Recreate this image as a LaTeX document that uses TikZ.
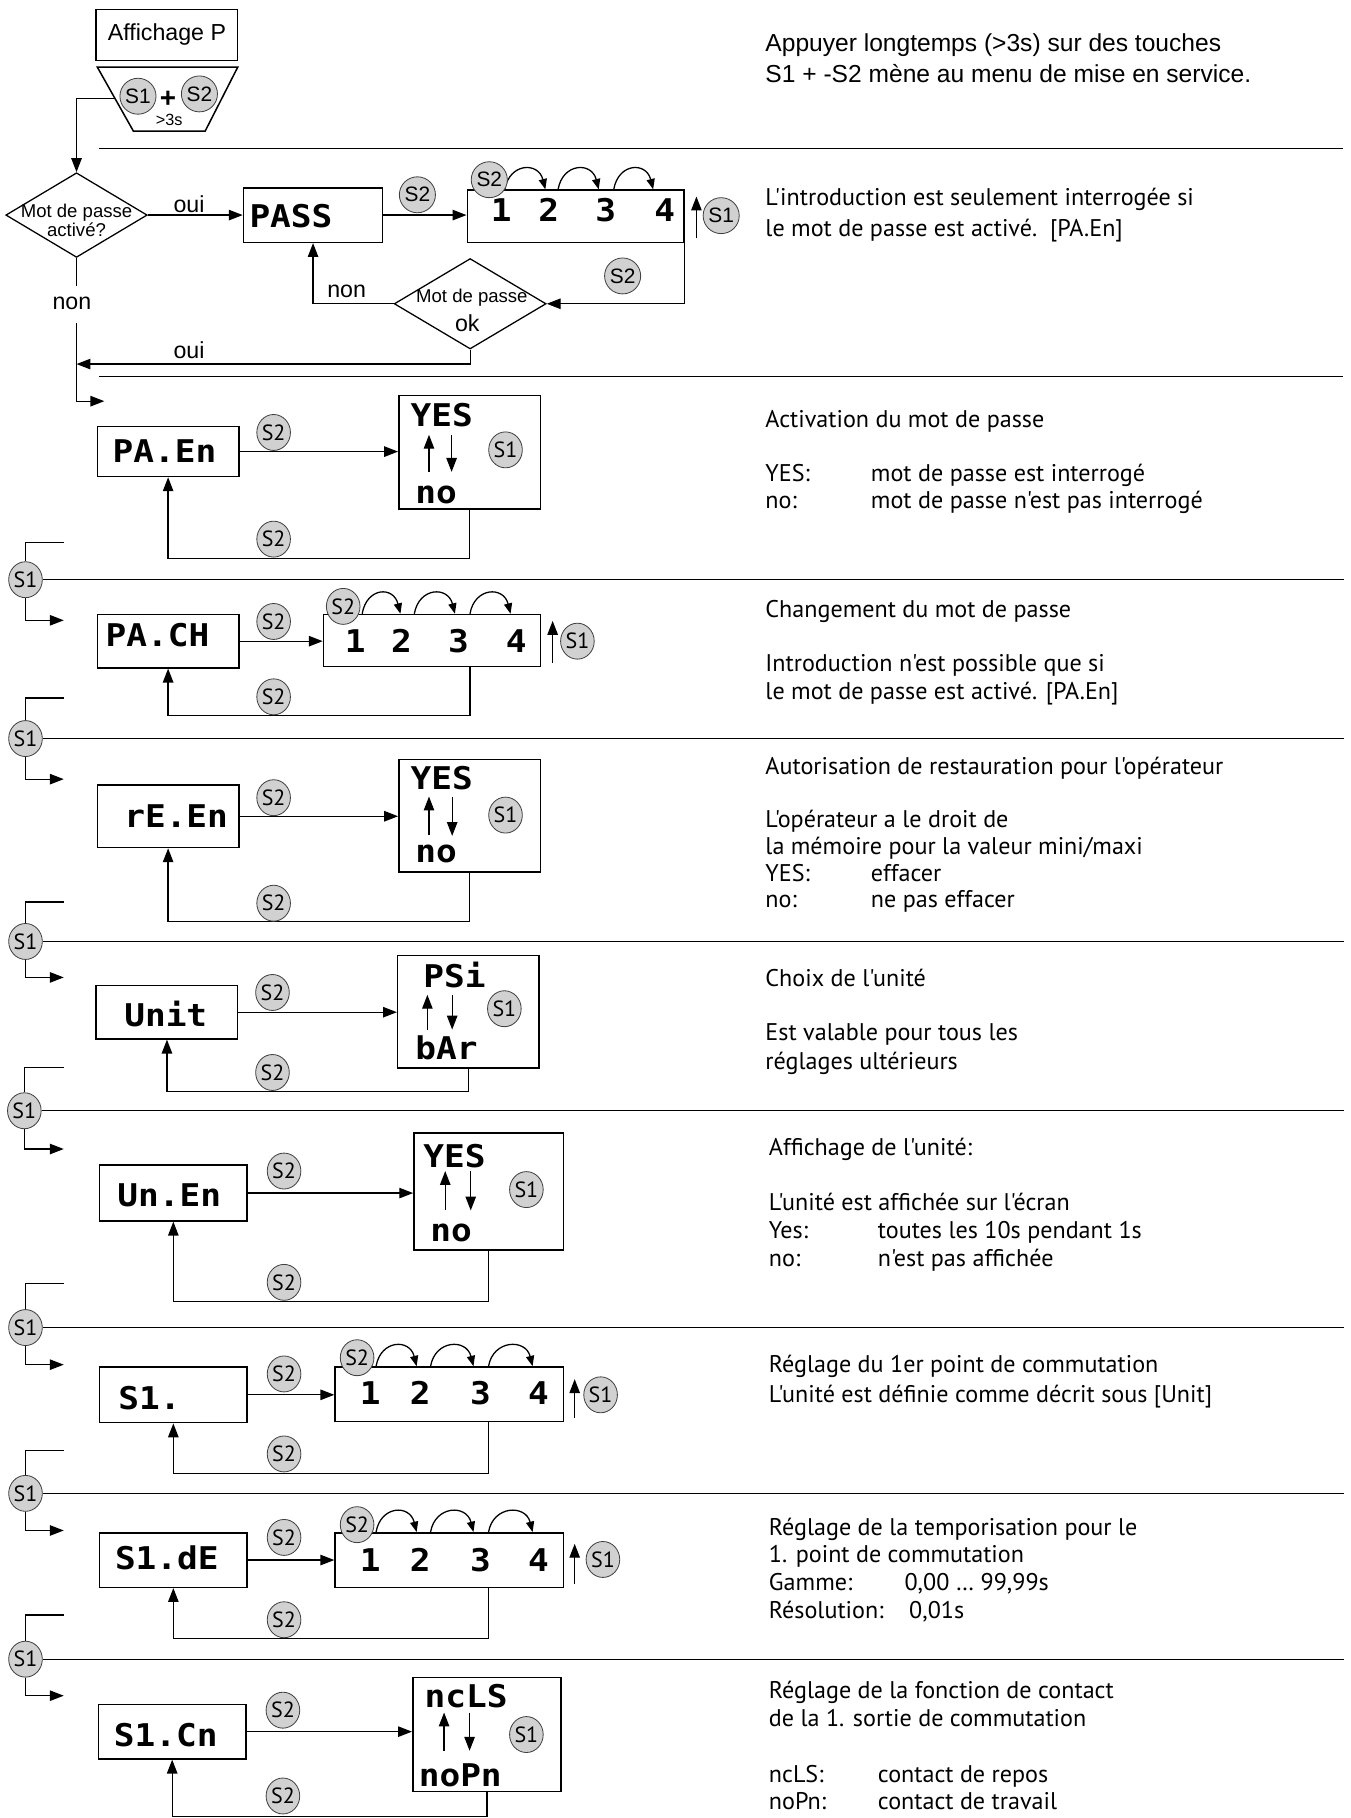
\documentclass[tikz,border=0pt]{standalone}
\usepackage{fontspec}
\setmainfont{Liberation Sans}
\newfontfamily\myr{PT Sans}
\newfontfamily\segf{DejaVu Sans Mono}[FakeStretch=1.1]
\usetikzlibrary{arrows.meta,shapes.geometric,calc}
\newcommand\lbranch[5]{%
  \node[kb] (#1) at (#2,#3) {S1};
  \draw[ln] (55,#4) -| (#1.north);
  \draw[arr] (#1.south) |- (55,#5);
  \draw[ln] (#1.east) -- (1159,#3);}
\begin{document}
\begin{tikzpicture}[x=1pt,y=-1pt,
 ln/.style={line width=1.1pt},
 arr/.style={line width=1.1pt,-{Triangle[length=12pt,width=9pt]}},
 sarr/.style={line width=1.1pt,-{Triangle[length=9pt,width=7pt]}},
 varr/.style={line width=1.1pt,-{Triangle[length=12pt,width=9pt]}},
 bx/.style={draw,line width=1.3pt,inner sep=0pt},
 dia/.style={diamond,draw,line width=1.1pt,inner sep=0pt},
 kb/.style={ellipse,draw=black!75,line width=0.7pt,fill=black!18,minimum width=29pt,minimum height=31pt,inner sep=0pt,font=\myr\fontsize{19}{19}\selectfont},
 kba/.style={kb,font=\fontsize{18}{18}\selectfont},
 seg/.style={inner sep=0pt,anchor=base west,font=\segf\bfseries\fontsize{27}{27}\selectfont},
 segd/.style={seg,anchor=base},
 rt/.style={inner sep=0pt,anchor=base west,font=\myr\fontsize{20.8}{24}\selectfont},
 atx/.style={inner sep=0pt,anchor=base west,font=\fontsize{21.2}{25}\selectfont},
 lab/.style={inner sep=0pt,font=\fontsize{20}{24}\selectfont},
]
\useasboundingbox (0,0) rectangle (1165,1568);

% ---------------- top part
\node[bx,minimum width=122pt,minimum height=44pt,font=\fontsize{20}{24}\selectfont] (aff) at (144,30) {Affichage P};
\coordinate (tzA) at (84,58); \coordinate (tzB) at (205,58);
\coordinate (tzC) at (177,113); \coordinate (tzD) at (115,113);
\draw[line width=1.3pt] (tzA) -- (tzB) -- (tzC) -- (tzD) -- cycle;
\coordinate (tzL) at ($(tzA)!0.49!(tzD)$);
\node[inner sep=0pt,font=\bfseries\fontsize{24}{24}\selectfont] (plus) at (145,86) {+};
\node[inner sep=0pt,font=\fontsize{14}{14}\selectfont] (gt3) at (146,103) {>3s};
\draw[ln] (85,128) -- (1158,128);

\node[dia,minimum width=122pt,minimum height=73pt] (dia1) at (66,185.5) {};
\node[align=center,inner sep=0pt,font=\fontsize{16}{17}\selectfont] (dia1t) at (66,190) {Mot de passe\\activé?};
\draw[arr] (tzL) -| (dia1.north);

\node[bx,minimum width=120pt,minimum height=47pt] (pass) at (270,185.5) {};
\node[seg] (passt) at (215,196) {PASS};
\draw[arr] (dia1.east) -- (pass.west);
\node[lab] (oui1) at (163,176) {oui};

\node[bx,minimum width=187pt,minimum height=45pt] (nb1) at (496.5,186.5) {};
\draw[arr] (pass.east) -- (pass.east -| nb1.west);
\foreach \i/\dx in {1/30,2/71,3/120,4/171} \node[segd] (nb1d\i) at ($(nb1.west)+(\dx,4.5)$) {\i};
\foreach \a/\b in {33/68,79/114,127/161}
  \draw[sarr] ($(nb1.north west)+(\a,0)$) .. controls +(4,-23) and +(-6,-24) .. ($(nb1.north west)+(\b,0)$);
\draw[varr] ($(nb1.east)+(10,19)$) -- ($(nb1.east)+(10,-17)$);

\node[dia,minimum width=131pt,minimum height=78pt] (dia2) at (405.5,262) {};
\node[inner sep=0pt,font=\fontsize{16}{16}\selectfont] (dia2a) at (407,257) {Mot de passe};
\node[lab] (dia2b) at (403,279) {ok};
\draw[arr] (nb1.south east) |- (dia2.east);
\draw[arr] (dia2.west) -| (pass.south);
\node[lab] (non2) at (299,251) {non};
\coordinate (vj) at (66,314);
\draw[arr] (dia2.south) |- (vj);
\node[lab] (oui2) at (163,302) {oui};
\draw[ln] (dia1.south) -- ++(0,24);
\node[lab] (non1) at (62,262) {non};
\coordinate (e0) at (90,346);
\coordinate (vs) at (66,279);
\draw[arr] (vs) |- (e0);
\draw[ln] (85,325) -- (1158,325);

\node[atx] (r1) at (660,44.5) {Appuyer longtemps (>3s) sur des touches};
\node[atx] (r2) at (660,71.5) {S1 + -S2 mène au menu de mise en service.};
\node[rt] (r3) at (660,177) {L'introduction est seulement interrogée si};
\node[rt] (r4) at (660,204) {le mot de passe est activé.\ \ [PA.En]};

% ---------------- PA.En
\node[bx,minimum width=122pt,minimum height=43pt] (paen) at (145,389.5) {};
\node[seg] (paent) at (97,399) {PA.En};
\node[bx,minimum width=122pt,minimum height=98pt] (yn1) at (405,390) {};
\node[seg] (yes1) at (354,368) {YES};
\node[seg] (no1) at (358,434) {no};
\draw[varr] ($(yn1.center)+(-35,17)$) -- ($(yn1.center)+(-35,-15)$);
\draw[varr] ($(yn1.center)+(-15.5,-15)$) -- ($(yn1.center)+(-15.5,17)$);
\draw[arr] (paen.east) -- (paen.east -| yn1.west);
\draw[arr] (yn1.south) -- ++(0,42) -| (paen.south);
\lbranch{k1}{22}{500}{468}{535}
\node[rt] (r5) at (660,369) {Activation du mot de passe};
\node[rt] (r6) at (660,415) {\makebox[91pt][l]{YES:}mot de passe est interrogé};
\node[rt] (r7) at (660,439) {\makebox[91pt][l]{no:}mot de passe n'est pas interrogé};

% ---------------- PA.CH
\node[bx,minimum width=122pt,minimum height=46pt] (pach) at (145,553) {};
\node[seg] (pacht) at (91,558) {PA.CH};
\node[bx,minimum width=187pt,minimum height=45pt] (nb2) at (372.5,552.5) {};
\draw[arr] (pach.east) -- (pach.east -| nb2.west);
\foreach \i/\dx in {1/28,2/68,3/117,4/167} \node[segd] (nb2d\i) at ($(nb2.west)+(\dx,10)$) {\i};
\foreach \a/\b in {34/67,79/114,127/162}
  \draw[sarr] ($(nb2.north west)+(\a,0)$) .. controls +(4,-23) and +(-6,-24) .. ($(nb2.north west)+(\b,0)$);
\draw[varr] ($(nb2.east)+(10,19.5)$) -- ($(nb2.east)+(10,-17)$);
\draw[arr] ($(nb2.south west)+(127,0)$) -- ++(0,41.5) -| (pach.south);
\lbranch{k2}{22}{637}{602}{672}
\node[rt] (r8) at (660,533) {Changement du mot de passe};
\node[rt] (r9) at (660,579) {Introduction n'est possible que si};
\node[rt] (r10) at (660,603) {le mot de passe est activé. [PA.En]};

% ---------------- rE.En
\node[bx,minimum width=122pt,minimum height=54pt] (reen) at (145,704) {};
\node[seg] (reent) at (107,714) {rE.En};
\node[bx,minimum width=122pt,minimum height=97pt] (yn2) at (405,703.5) {};
\node[seg] (yes2) at (354,681) {YES};
\node[seg] (no2) at (358,744) {no};
\draw[varr] ($(yn2.center)+(-35,16.5)$) -- ($(yn2.center)+(-35,-16.5)$);
\draw[varr] ($(yn2.center)+(-15,-16.5)$) -- ($(yn2.center)+(-15,17.5)$);
\draw[arr] (reen.east) -- (reen.east -| yn2.west);
\draw[arr] (yn2.south) -- ++(0,42) -| (reen.south);
\lbranch{k3}{22}{812}{778}{843}
\node[rt] (r11) at (660,668) {Autorisation de restauration pour l'opérateur};
\node[rt] (r12) at (660,714) {L'opérateur a le droit de};
\node[rt] (r13) at (660,737) {la mémoire pour la valeur mini/maxi};
\node[rt] (r14) at (660,760) {\makebox[91pt][l]{YES:}effacer};
\node[rt] (r15) at (660,783) {\makebox[91pt][l]{no:}ne pas effacer};

% ---------------- Unit
\node[bx,minimum width=122pt,minimum height=46pt] (unit) at (144,873) {};
\node[seg] (unitt) at (107,885) {Unit};
\node[bx,minimum width=122pt,minimum height=97pt] (ps) at (404,872.5) {};
\node[seg] (pst) at (365,852) {PSi};
\node[seg] (bart) at (358,914) {bAr};
\draw[varr] ($(ps.center)+(-35.4,15.5)$) -- ($(ps.center)+(-35.4,-14.5)$);
\draw[varr] ($(ps.center)+(-14,-14.5)$) -- ($(ps.center)+(-14,15.5)$);
\draw[arr] (unit.east) -- (unit.east -| ps.west);
\draw[arr] (ps.south) -- ++(0,20) -| (unit.south);
\lbranch{k4}{21}{958}{921}{991}
\node[rt] (r16) at (660,851) {Choix de l'unité};
\node[rt] (r17) at (660,897) {Est valable pour tous les};
\node[rt] (r18) at (660,922) {réglages ultérieurs};

% ---------------- Un.En
\node[bx,minimum width=127pt,minimum height=48pt] (unen) at (149.5,1029) {};
\node[seg] (unent) at (101,1041) {Un.En};
\node[bx,minimum width=129pt,minimum height=101pt] (yn3) at (421.5,1027.5) {};
\node[seg] (yes3) at (365,1007) {YES};
\node[seg] (no3) at (371,1071) {no};
\draw[varr] ($(yn3.center)+(-37.5,16.5)$) -- ($(yn3.center)+(-37.5,-17.5)$);
\draw[varr] ($(yn3.center)+(-15.5,-17.5)$) -- ($(yn3.center)+(-15.5,16.5)$);
\draw[arr] (unen.east) -- (unen.east -| yn3.west);
\draw[arr] (yn3.south) -- ++(0,44) -| (unen.south);
\lbranch{k5}{22}{1145}{1107}{1177}
\node[rt] (r19) at (663,997) {Affichage de l'unité:};
\node[rt] (r20) at (663,1044) {L'unité est affichée sur l'écran};
\node[rt] (r21) at (663,1068) {\makebox[94pt][l]{Yes:}toutes les 10s pendant 1s};
\node[rt] (r22) at (663,1092) {\makebox[94pt][l]{no:}n'est pas affichée};

% ---------------- S1.
\node[bx,minimum width=127pt,minimum height=48pt] (sa) at (149.5,1203) {};
\node[seg] (sat) at (102,1216) {S1.};
\node[bx,minimum width=197pt,minimum height=47pt] (nb3) at (387.5,1202.5) {};
\draw[arr] (sa.east) -- (sa.east -| nb3.west);
\foreach \i/\dx in {1/31,2/74,3/126,4/176} \node[segd] (nb3d\i) at ($(nb3.west)+(\dx,8.5)$) {\i};
\foreach \a/\b in {36/71,83/120,133/171}
  \draw[sarr] ($(nb3.north west)+(\a,0)$) .. controls +(4,-23) and +(-6,-24) .. ($(nb3.north west)+(\b,0)$);
\draw[varr] ($(nb3.east)+(9,20.5)$) -- ($(nb3.east)+(9,-13)$);
\draw[arr] ($(nb3.south west)+(133,0)$) -- ++(0,44) -| (sa.south);
\lbranch{k6}{22}{1288}{1251}{1320}
\node[rt] (r23) at (663,1184) {Réglage du 1er point de commutation};
\node[rt] (r24) at (663,1210) {L'unité est définie comme décrit sous [Unit]};

% ---------------- S1.dE
\node[bx,minimum width=127pt,minimum height=47pt] (sde) at (149.5,1345.5) {};
\node[seg] (sdet) at (99,1354) {S1.dE};
\node[bx,minimum width=197pt,minimum height=47pt] (nb4) at (387.5,1345.5) {};
\draw[arr] (sde.east) -- (sde.east -| nb4.west);
\foreach \i/\dx in {1/31,2/74,3/126,4/176} \node[segd] (nb4d\i) at ($(nb4.west)+(\dx,9.5)$) {\i};
\foreach \a/\b in {36/71,83/120,133/171}
  \draw[sarr] ($(nb4.north west)+(\a,0)$) .. controls +(4,-23) and +(-6,-24) .. ($(nb4.north west)+(\b,0)$);
\draw[varr] ($(nb4.east)+(9,20.5)$) -- ($(nb4.east)+(9,-14)$);
\draw[arr] ($(nb4.south west)+(133,0)$) -- ++(0,43.5) -| (sde.south);
\lbranch{k7}{22}{1431}{1393}{1462.5}
\node[rt] (r25) at (663,1324) {Réglage de la temporisation pour le};
\node[rt] (r26) at (663,1348) {1. point de commutation};
\node[rt] (r27) at (663,1372) {\makebox[117pt][l]{Gamme:}0,00 … 99,99s};
\node[rt] (r28) at (663,1396) {\makebox[121pt][l]{Résolution:}0,01s};

% ---------------- S1.Cn
\node[bx,minimum width=127pt,minimum height=47pt] (scn) at (148.5,1493.5) {};
\node[seg] (scnt) at (98,1506) {S1.Cn};
\node[bx,minimum width=128pt,minimum height=98pt] (nc) at (420,1496) {};
\node[seg] (nct) at (366,1473) {ncLS};
\node[seg] (nopt) at (361,1541) {noPn};
\draw[varr] ($(nc.center)+(-37,14)$) -- ($(nc.center)+(-37,-19)$);
\draw[varr] ($(nc.center)+(-15,-19)$) -- ($(nc.center)+(-15,14)$);
\draw[arr] (scn.east) -- (scn.east -| nc.west);
\draw[arr] (nc.south) -- ++(0,21) -| (scn.south);
\node[rt] (r29) at (663,1465) {Réglage de la fonction de contact};
\node[rt] (r30) at (663,1489) {de la 1. sortie de commutation};
\node[rt] (r31) at (663,1537) {\makebox[94pt][l]{ncLS:}contact de repos};
\node[rt] (r32) at (663,1561) {\makebox[94pt][l]{noPn:}contact de travail};

% ---------------- key circles (on top)
\node[kba] (ka1) at (119,83) {S1};
\node[kba] (ka2) at (172,81) {S2};
\node[kba] (ka3) at (360,168) {S2};
\node[kba] (ka4) at (422,155) {S2};
\node[kba] (ka5) at (622,186) {S1};
\node[kba] (ka6) at (537,238) {S2};

\node[kb] (kb1) at (236,373) {S2};
\node[kb] (kb2) at (236,465) {S2};
\node[kb] (kb3) at (436,388) {S1};

\node[kb] (kc1) at (236,536) {S2};
\node[kb] (kc2) at (236,601) {S2};
\node[kb] (kc3) at (296,523) {S2};
\node[kb] (kc4) at (498,553) {S1};

\node[kb] (kd1) at (236,688) {S2};
\node[kb] (kd2) at (236,779) {S2};
\node[kb] (kd3) at (436,703) {S1};

\node[kb] (ke1) at (235,856) {S2};
\node[kb] (ke2) at (235,925) {S2};
\node[kb] (ke3) at (435,870) {S1};

\node[kb] (kf1) at (245,1010) {S2};
\node[kb] (kf2) at (245,1106) {S2};
\node[kb] (kf3) at (454,1026) {S1};

\node[kb] (kg1) at (245,1185) {S2};
\node[kb] (kg2) at (245,1254) {S2};
\node[kb] (kg3) at (308,1171) {S2};
\node[kb] (kg4) at (518,1203) {S1};

\node[kb] (kh1) at (245,1326) {S2};
\node[kb] (kh2) at (245,1397) {S2};
\node[kb] (kh3) at (308,1315) {S2};
\node[kb] (kh4) at (520,1345) {S1};

\node[kb] (ki1) at (244,1475) {S2};
\node[kb] (ki2) at (244,1549) {S2};
\node[kb] (ki3) at (454,1496) {S1};
\end{tikzpicture}
\end{document}
